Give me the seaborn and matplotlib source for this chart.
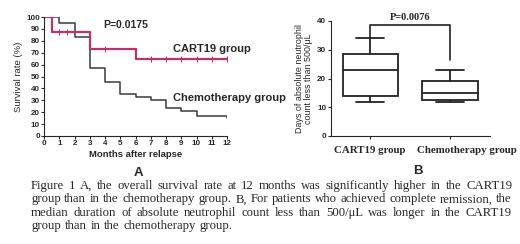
import matplotlib
matplotlib.use("Agg")
import matplotlib.pyplot as plt
import matplotlib.transforms as mtransforms
import seaborn as sns
import pandas as pd

# Panel A: Kaplan-Meier step curves (month, survival %)
cart_months = [0, 0.5, 3, 6, 12]
cart_surv = [100, 87.5, 72.9, 65, 65]
cart_censor_months = [1, 1.5, 4, 7, 8, 9, 10, 11, 12]
cart_censor_surv = [87.5, 87.5, 72.9, 65, 65, 65, 65, 65, 65]

chemo_months = [0, 1, 2, 3, 4, 5, 6, 7, 8, 9, 10, 12]
chemo_surv = [100, 95, 83.5, 57, 45, 35.5, 33, 30.5, 23.5, 21, 16.5, 15]

# Panel B: days of ANC < 500/uL (five-number summaries)
groups = ["CART19 group", "Chemotherapy group"]
cart_days = [12, 14, 23, 28.5, 34]
chemo_days = [12, 12.5, 15, 19, 23]

caption_lines = [
    "Figure 1 A, the overall survival rate at 12 months was significantly higher in the CART19",
    "group than in the chemotherapy group. B, For patients who achieved complete remission, the",
    "median duration of absolute neutrophil count less than 500/\u03bcL was longer in the CART19",
    "group than in the chemotherapy group.",
]

sns.set_style("ticks")
plt.rcParams["font.family"] = ["Liberation Sans", "DejaVu Sans"]

W, H = 520, 244
fig = plt.figure(figsize=(5.2, 2.44), dpi=100)
MAGENTA = "#c0306a"
DARK = "#3a3a3a"

# ---- Panel A ----
axA = fig.add_axes([44 / W, 1 - 136 / H, 183 / W, 119 / H])
df_cart = pd.DataFrame({"month": cart_months, "surv": cart_surv})
df_chemo = pd.DataFrame({"month": chemo_months, "surv": chemo_surv})
sns.lineplot(df_chemo, x="month", y="surv", drawstyle="steps-post", color=DARK, lw=1.1, ax=axA)
sns.lineplot(df_cart, x="month", y="surv", drawstyle="steps-post", color=MAGENTA, lw=1.6, ax=axA)
sns.scatterplot(x=cart_censor_months, y=cart_censor_surv, marker="|", s=14, color=MAGENTA,
                linewidth=0.8, ax=axA, zorder=5)
axA.set_xlim(0, 12)
axA.set_ylim(0, 100)
axA.set_xticks(range(0, 13))
axA.set_yticks(range(0, 101, 10))
axA.tick_params(labelsize=5.8, length=2, width=0.8, pad=1)
for lab in axA.get_xticklabels() + axA.get_yticklabels():
    lab.set_fontweight("bold")
axA.set_xlabel("Months after relapse", fontsize=6.8, fontweight="bold", labelpad=2)
axA.set_ylabel("Survival rate (%)", fontsize=6.8, labelpad=2)
sns.despine(ax=axA)
axA.text(3.87, 93, "P=0.0175", fontsize=7.5, fontweight="bold", va="center")
axA.text(8.45, 73, "CART19 group", fontsize=8, fontweight="bold", va="center")
axA.text(8.45, 32, "Chemotherapy group", fontsize=8, fontweight="bold", va="center", clip_on=False)
fig.text(138 / W, 1 - 173 / H, "A", fontsize=9.5, fontweight="bold", ha="center", va="center")

# ---- Panel B ----
axB = fig.add_axes([331 / W, 1 - 136 / H, 159 / W, 115 / H])
df_box = pd.DataFrame({
    "group": [groups[0]] * len(cart_days) + [groups[1]] * len(chemo_days),
    "days": cart_days + chemo_days,
})
sns.boxplot(df_box, x="group", y="days", whis=(0, 100), width=0.69, color="white",
            linecolor="#222222", linewidth=1.3, fliersize=0, ax=axB)
axB.set_xlim(-0.49, 1.5)
axB.set_ylim(0, 40)
axB.set_yticks([0, 10, 20, 30, 40])
axB.tick_params(labelsize=5.8, length=2.5, width=0.8, pad=1)
for lab in axB.get_yticklabels():
    lab.set_fontweight("bold")
axB.set_xticks([0, 1])
axB.set_xticklabels(groups, fontsize=7.8, fontweight="bold", family="Liberation Serif")
axB.tick_params(axis="x", pad=5)
# the second group label sits a little right of its tick in the original
lab2 = axB.get_xticklabels()[1]
lab2.set_transform(lab2.get_transform() + mtransforms.ScaledTranslation(0.17, 0, fig.dpi_scale_trans))
axB.set_xlabel("")
axB.set_ylabel("Days of absolute neutrophil\ncount less than 500/\u03bcL", fontsize=6.4,
               labelpad=3, linespacing=1.0)
sns.despine(ax=axB)
axB.plot([0, 0, 1, 1], [34.5, 38.6, 38.6, 26.5], color="#222222", lw=1.2, clip_on=False)
axB.text(0.5, 41.3, "P=0.0076", fontsize=7.5, fontweight="bold", family="Liberation Serif",
         ha="center", va="center")
fig.text(418 / W, 1 - 171 / H, "B", fontsize=9.5, fontweight="bold", ha="center", va="center")

# ---- Caption (justified, word by word) ----
renderer = fig.canvas.get_renderer()
cap_size = 9.2
x0, x1 = 31, 512
for i, line in enumerate(caption_lines):
    y = 1 - (186 + 13.3 * i) / H
    words = line.split(" ")
    texts = [fig.text(0, y, w, fontsize=cap_size, family="Liberation Serif", va="center", ha="left")
             for w in words]
    widths = [t.get_window_extent(renderer).width for t in texts]
    if i == len(caption_lines) - 1:
        gap = cap_size * 0.3 * fig.dpi / 72
    else:
        gap = (x1 - x0 - sum(widths)) / (len(words) - 1)
    x = x0
    for t, w in zip(texts, widths):
        t.set_x(x / W)
        x += w + gap

fig.savefig("out.png", dpi=100)
